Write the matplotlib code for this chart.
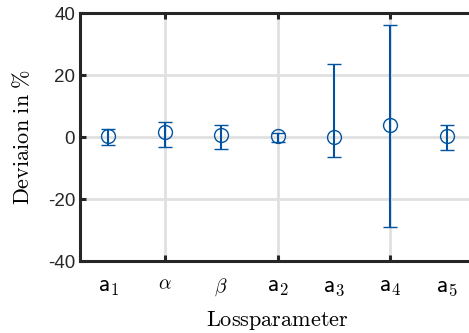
import matplotlib
matplotlib.use("Agg")
import matplotlib.pyplot as plt

plt.rcParams["mathtext.fontset"] = "cm"
plt.rcParams["axes.unicode_minus"] = False
plt.rcParams["font.family"] = ["Liberation Sans", "DejaVu Sans"]

labels = [r"$\mathsf{a}_1$", r"$\alpha$", r"$\beta$", r"$\mathsf{a}_2$",
          r"$\mathsf{a}_3$", r"$\mathsf{a}_4$", r"$\mathsf{a}_5$"]
positions = [1, 2, 3, 4, 5, 6, 7]
means = [0.3, 1.5, 0.6, 0.3, 0.1, 3.9, 0.3]
upper = [2.6, 4.8, 3.9, 1.2, 23.6, 36.2, 3.9]
lower = [-2.6, -3.1, -3.8, -1.5, -6.3, -28.9, -4.1]

BLUE = "#0053a0"
DARK = "#262626"

fig = plt.figure(figsize=(4.69, 3.33), dpi=100)
ax = fig.add_axes([80 / 469, 72 / 333, 395 / 469, 248 / 333])

yerr = [[m - lo for m, lo in zip(means, lower)], [up - m for m, up in zip(means, upper)]]
ax.errorbar(positions, means, yerr=yerr, fmt="o", mfc="none", mec=BLUE, color=BLUE,
            ms=10, mew=1.0, elinewidth=1.5, capsize=4.7, capthick=1.5, zorder=3)

ax.set_xlim(0.5, 7.5)
ax.set_ylim(-40, 40)
ax.set_yticks([-40, -20, 0, 20, 40])
ax.xaxis.remove_overlapping_locs = False
ax.set_xticks([2, 4, 6])
ax.set_xticklabels([])
ax.set_xticks(positions, minor=True)
ax.set_xticklabels(labels, minor=True, fontsize=17)
for lab in ax.get_xticklabels(minor=True):
    if "alpha" in lab.get_text() or "beta" in lab.get_text():
        lab.set_fontsize(14)
ax.tick_params(axis="x", which="minor", length=0, pad=11)
ax.tick_params(axis="both", which="major", direction="in", length=4, width=2.2,
               color=DARK, labelsize=13.5, labelcolor=DARK, top=True)
ax.grid(True, which="major", color="#e0e0e0", linewidth=2)
ax.set_axisbelow(True)

for side in ["left", "bottom", "top", "right"]:
    ax.spines[side].set_linewidth(2.2)
    ax.spines[side].set_color(DARK)

ax.set_xlabel(r"$\mathrm{Lossparameter}$", fontsize=16, labelpad=8)
ax.set_ylabel(r"$\mathrm{Deviaion\ in\ \%}$", fontsize=16, labelpad=10)

fig.savefig("out.png", dpi=100)
